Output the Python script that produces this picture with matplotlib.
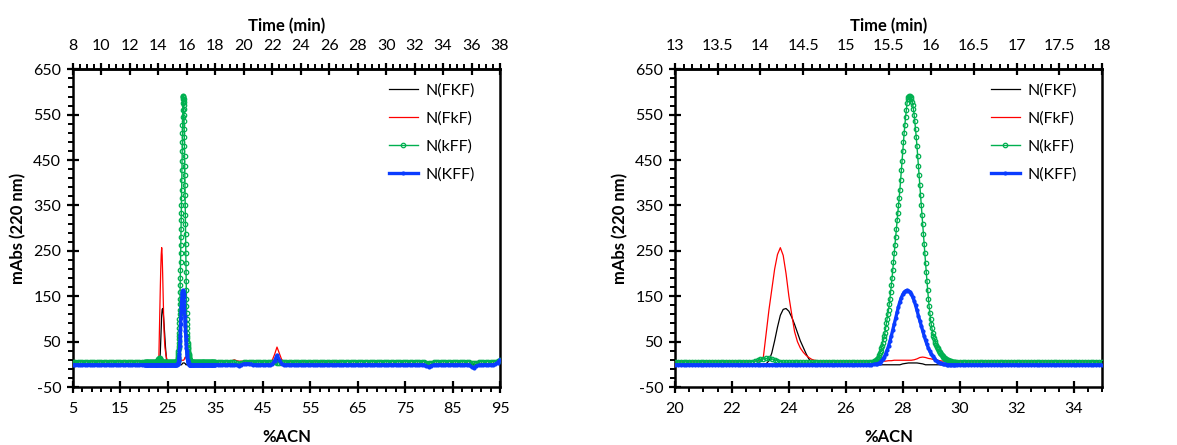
import numpy as np
import matplotlib
matplotlib.use('Agg')
import matplotlib.pyplot as plt
from matplotlib.ticker import MultipleLocator, FixedLocator, FuncFormatter

plt.rcParams['font.family'] = ['Lato', 'DejaVu Sans']
plt.rcParams['axes.unicode_minus'] = False

# ---------------- data (x = %ACN, y = mAbs at 220 nm) ----------------
series_names = ['N(FKF)', 'N(FkF)', 'N(kFF)', 'N(KFF)']

# grids: LO 5.0-19.5 step 0.5 ; MID 20.0-35.0 step 0.1 ; HI 35.5-95.0 step 0.5
# kFF peak: 27.000-29.850 step 0.025 ; KFF peak: 27.00-29.85 step 0.05

FKF_LO = [0] * 30
FKF_MID = ([0] * 32
           + [1, 8, 25, 52, 82, 108, 121, 123, 117, 104, 88, 70, 52, 38, 24, 12, 5, 2, 0]
           + [-1] * 29
           + [1, 2, 3, 3, 3, 3, 2, 1, -1]
           + [-1] * 62)
FKF_HI = [0] * 24 + [4, 12, 4] + [0] * 93

FkF_LO = [7] * 30
FkF_MID = ([7] * 30
           + [8, 14, 68, 120, 165, 210, 242, 257, 240, 200, 150, 110, 72, 50, 36, 27, 20, 15, 11, 9, 8]
           + [7] * 24
           + [8, 8, 9, 9, 9, 9, 9, 9, 9, 10, 12, 15, 16, 15, 13, 12, 10, 9, 8]
           + [7] * 54
           + [7, 5, 3])
FkF_HI = ([7] * 6 + [8, 10, 8, 7]
          + [7] * 10
          + [7, 7, 7, 9, 22, 38, 24, 10, 7, 7]
          + [6] * 90)

kFF_LO = [5] * 30
kFF_MID_A = [5] * 27 + [6, 7, 9, 11, 12, 13, 13, 12, 10, 8, 6] + [5] * 32
kFF_PEAK = [7, 7, 8, 9, 11, 13, 16, 20, 24, 29,
            35, 41, 48, 55, 62, 70, 80, 90, 100, 110,
            120, 132, 145, 160, 175, 191, 208, 226, 245, 262,
            280, 299, 318, 334, 350, 367, 385, 406, 428, 449,
            470, 490, 510, 528, 545, 561, 575, 584, 590, 592,
            591, 588, 584, 579, 572, 562, 550, 535, 518, 500,
            480, 459, 437, 416, 395, 373, 352, 330, 309, 287,
            266, 245, 224, 203, 183, 164, 145, 128, 113, 100,
            88, 79, 70, 63, 57, 52, 47, 43, 39, 36,
            33, 30, 28, 25, 23, 21, 19, 17, 15, 13,
            12, 11, 10, 9, 9, 8, 8, 7, 7, 6,
            6, 6, 6, 5, 5]
kFF_MID_B = [5] * 52
kFF_HI = ([5] * 8 + [3, 0]
          + [3] + [5] * 9
          + [5] * 5 + [2, 4, 5, 5, 5]
          + [5] * 20
          + [5] * 3 + [6] * 7
          + [6] * 20
          + [6] * 8 + [3, 2]
          + [4] + [6] * 9
          + [6] * 7 + [3, 2, 4]
          + [5] + [6] * 7 + [8, 10])

KFF_LO = [-1] * 30
KFF_MID_A = [-1] * 70
KFF_PEAK = [0, 0, 1, 2, 4, 7, 11, 16, 23, 31,
            40, 51, 63, 76, 89, 102, 115, 127, 138, 147,
            154, 159, 162, 163, 162, 160, 155, 148, 140, 130,
            119, 107, 96, 85, 74, 63, 53, 44, 36, 29,
            23, 18, 14, 10, 7, 5, 3, 2, 1, 0,
            0, -1, -1, -1, -1, -1, -1, -1]
KFF_MID_B = [-1] * 52
KFF_HI = ([-1] * 8 + [-2, -3]
          + [-1, 1, 1, 1, 0, -1, -1, -1, -1, -1]
          + [-1, -1, -1, 0, 8, 20, 10, 1, -1, -1]
          + [-1] * 50
          + [-1] * 8 + [-4, -6]
          + [-3] + [-1] * 9
          + [-1] * 7 + [-6, -8, -4]
          + [-2] + [-1] * 6 + [0, 4, 10])

segments = {
    'N(FKF)': [(5.0, 0.5, FKF_LO), (20.0, 0.1, FKF_MID), (35.5, 0.5, FKF_HI)],
    'N(FkF)': [(5.0, 0.5, FkF_LO), (20.0, 0.1, FkF_MID), (35.5, 0.5, FkF_HI)],
    'N(kFF)': [(5.0, 0.5, kFF_LO), (20.0, 0.1, kFF_MID_A), (27.0, 0.025, kFF_PEAK),
               (29.9, 0.1, kFF_MID_B), (35.5, 0.5, kFF_HI)],
    'N(KFF)': [(5.0, 0.5, KFF_LO), (20.0, 0.1, KFF_MID_A), (27.0, 0.05, KFF_PEAK),
               (29.9, 0.1, KFF_MID_B), (35.5, 0.5, KFF_HI)],
}


def build(segs):
    xs, ys = [], []
    for start, step, vals in segs:
        xs.append(start + step * np.arange(len(vals)))
        ys.append(np.asarray(vals, float))
    return np.concatenate(xs), np.concatenate(ys)


data = {k: build(v) for k, v in segments.items()}

styles = {
    'N(FKF)': dict(color='#000000', lw=0.9, zorder=2),
    'N(FkF)': dict(color='#FF0000', lw=0.9, zorder=3),
    'N(kFF)': dict(color='#00B050', lw=1.0, marker='o', ms=3.2, mfc='none', mew=0.9, zorder=4),
    'N(KFF)': dict(color='#0A3CFF', lw=2.4, marker='o', ms=3.0, mew=0, zorder=5),
}


def acn2t(x):
    return (np.asarray(x, float) - 5.0) / 3.0 + 8.0


def t2acn(t):
    return 5.0 + 3.0 * (np.asarray(t, float) - 8.0)


fmt = FuncFormatter(lambda v, p: '{:g}'.format(round(v, 3)))

fig = plt.figure(figsize=(11.77, 4.45), dpi=100)
panels = [
    dict(rect=[0.0620, 0.1303, 0.3628, 0.7140], xlim=(5, 95), xmaj=np.arange(5, 96, 10),
         xmin=np.arange(5, 96, 2), tmaj=np.arange(8, 39, 2), tmin=0.5),
    dict(rect=[0.5735, 0.1303, 0.3628, 0.7140], xlim=(20, 35), xmaj=np.arange(20, 35.1, 2),
         xmin=np.arange(20, 35.01, 0.5), tmaj=np.arange(13, 18.01, 0.5), tmin=0.1),
]

for p in panels:
    ax = fig.add_axes(p['rect'])
    for name in series_names:
        x, y = data[name]
        ax.plot(x, y, label=name, **styles[name])
    ax.set_xlim(*p['xlim'])
    ax.set_ylim(-50, 650)
    ax.set_yticks(np.arange(-50, 651, 100))
    ax.yaxis.set_minor_locator(FixedLocator(np.arange(-50, 651, 20)))
    ax.set_xticks(p['xmaj'])
    ax.xaxis.set_minor_locator(FixedLocator(p['xmin']))
    ax.xaxis.set_major_formatter(fmt)
    for s in ax.spines.values():
        s.set_linewidth(1.8)
    ax.tick_params(which='major', direction='inout', length=9, width=1.6, labelsize=11.5, pad=4)
    ax.tick_params(which='minor', direction='out', length=3.5, width=1.4)
    ax.tick_params(axis='x', which='major', pad=6)
    ax.set_xlabel('%ACN', fontsize=12, fontweight='bold', labelpad=10)
    ax.set_ylabel('mAbs (220 nm)', fontsize=12, fontweight='bold', labelpad=5)

    sec = ax.secondary_xaxis('top', functions=(acn2t, t2acn))
    sec.set_xticks(p['tmaj'])
    sec.xaxis.set_minor_locator(MultipleLocator(p['tmin']))
    sec.xaxis.set_major_formatter(fmt)
    sec.spines['top'].set_linewidth(1.8)
    sec.tick_params(which='major', direction='inout', length=9, width=1.6, labelsize=11.5, pad=7)
    sec.tick_params(which='minor', direction='out', length=3.5, width=1.4)
    sec.set_xlabel('Time (min)', fontsize=12, fontweight='bold', labelpad=6)

    leg = ax.legend(loc='upper left', bbox_to_anchor=(0.725, 0.975), frameon=False,
                    fontsize=11.5, handlelength=1.8, handletextpad=0.5, labelspacing=0.85,
                    numpoints=1, borderaxespad=0)

fig.savefig('out.png', dpi=100)
